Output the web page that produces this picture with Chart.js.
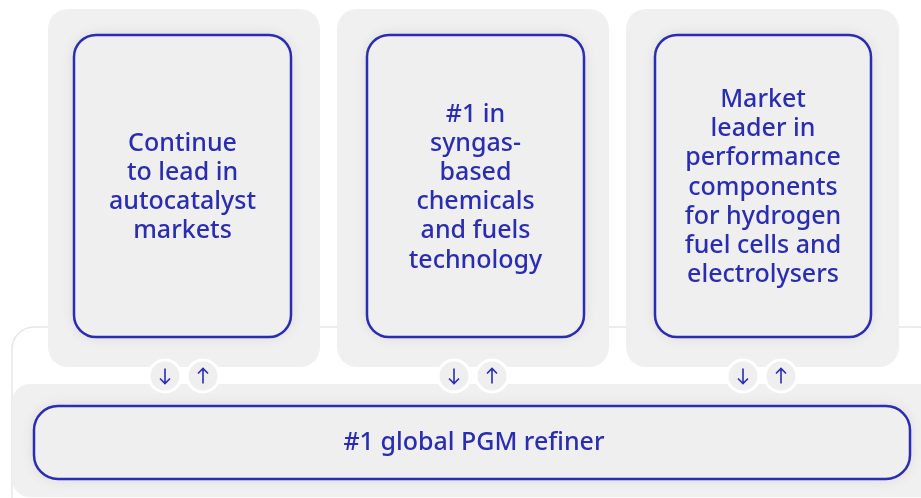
<!DOCTYPE html>
<html>
<head>
<meta charset="utf-8">
<script src="https://cdn.jsdelivr.net/npm/chart.js@4"></script>
<style>
  html, body { margin: 0; padding: 0; background: #ffffff; }
  canvas { display: block; }
</style>
</head>
<body>
<canvas id="jm-chart" width="921" height="498"></canvas>
<script>
( function () {
	'use strict';

	// ── Content ──────────────────────────────────────────────────────────
	var cardLines = [
		[ 'Continue', 'to lead in', 'autocatalyst', 'markets' ],
		[ '#1 in', 'syngas-', 'based', 'chemicals', 'and fuels', 'technology' ],
		[ 'Market', 'leader in', 'performance', 'components', 'for hydrogen', 'fuel cells and', 'electrolysers' ]
	];
	var baseLabel  = '#1 global PGM refiner';
	var flowArrows = [ 'down', 'up' ];

	// ── Layout (in scale units, 1 unit = 1 px) ───────────────────────────
	var cardX      = [ [ 48, 320 ], [ 337, 609 ], [ 626, 899 ] ];
	var innerX     = [ [ 74, 291 ], [ 367, 584 ], [ 655, 871 ] ];
	var cardTop    = 9;
	var cardBottom = 367;
	var innerTop   = 35;
	var innerBot   = 337;
	var arrowX     = [ [ 165, 203 ], [ 454, 492 ], [ 743, 781 ] ];
	var arrowY     = 376;

	var BLUE = '#2a2db0';
	var GREY = '#f0f0f0';
	var FONT = '500 25px "Noto Sans", "Open Sans", sans-serif';
	var LINE = 29.2;

	function rr( ctx, x, y, w, h, r ) {
		ctx.beginPath();
		ctx.moveTo( x + r, y );
		ctx.lineTo( x + w - r, y );
		ctx.arcTo( x + w, y, x + w, y + r, r );
		ctx.lineTo( x + w, y + h - r );
		ctx.arcTo( x + w, y + h, x + w - r, y + h, r );
		ctx.lineTo( x + r, y + h );
		ctx.arcTo( x, y + h, x, y + h - r, r );
		ctx.lineTo( x, y + r );
		ctx.arcTo( x, y, x + r, y, r );
		ctx.closePath();
	}

	var diagram = {
		id : 'diagram',
		beforeDatasetsDraw : function ( chart ) {
			var ctx = chart.ctx;
			var sx  = chart.scales.x;
			var sy  = chart.scales.y;
			function X( v ) { return sx.getPixelForValue( v ); }
			function Y( v ) { return sy.getPixelForValue( v ); }
			function box( x0, y0, x1, y1, r ) {
				rr( ctx, X( x0 ), Y( y0 ), X( x1 ) - X( x0 ), Y( y1 ) - Y( y0 ), r );
			}

			ctx.save();

			// outer container with faint border
			box( 12, 327, 940, 520, 22 );
			ctx.fillStyle = '#ffffff';
			ctx.fill();
			ctx.strokeStyle = '#e6e6e6';
			ctx.lineWidth = 1.5;
			ctx.stroke();

			// base panel
			box( 12, 384, 940, 497, 18 );
			ctx.fillStyle = GREY;
			ctx.fill();

			// top cards
			cardX.forEach( function ( c ) {
				box( c[ 0 ], cardTop, c[ 1 ], cardBottom, 20 );
				ctx.fillStyle = GREY;
				ctx.fill();
			} );

			// inner blue boxes
			function inner( x0, y0, x1, y1, r ) {
				ctx.save();
				box( x0, y0, x1, y1, r );
				ctx.shadowColor = 'rgba(0,0,0,0.10)';
				ctx.shadowBlur = 14;
				ctx.fillStyle = '#efefef';
				ctx.fill();
				ctx.restore();
				box( x0, y0, x1, y1, r );
				ctx.strokeStyle = BLUE;
				ctx.lineWidth = 2.5;
				ctx.stroke();
			}
			innerX.forEach( function ( b ) {
				inner( b[ 0 ], innerTop, b[ 1 ], innerBot, 22 );
			} );
			inner( 34, 406, 910, 479, 24 );

			// text
			ctx.fillStyle = BLUE;
			ctx.font = FONT;
			ctx.textAlign = 'center';
			ctx.textBaseline = 'middle';
			cardLines.forEach( function ( lines, i ) {
				var cx = X( ( innerX[ i ][ 0 ] + innerX[ i ][ 1 ] ) / 2 );
				var cy = Y( ( innerTop + innerBot ) / 2 + 1.5 );
				var y0 = cy - ( lines.length - 1 ) * LINE / 2;
				lines.forEach( function ( t, j ) {
					ctx.fillText( t, cx, y0 + j * LINE );
				} );
			} );
			ctx.fillText( baseLabel, X( 474 ), Y( 443 ) );

			// flow arrows
			arrowX.forEach( function ( pair ) {
				pair.forEach( function ( ax, k ) {
					var px = X( ax ), py = Y( arrowY );
					ctx.beginPath();
					ctx.arc( px, py, 16, 0, Math.PI * 2 );
					ctx.fillStyle = '#efefef';
					ctx.fill();
					ctx.strokeStyle = '#ffffff';
					ctx.lineWidth = 3;
					ctx.stroke();

					var dir = flowArrows[ k ] === 'down' ? 1 : -1;
					ctx.strokeStyle = BLUE;
					ctx.lineWidth = 1.6;
					ctx.beginPath();
					ctx.moveTo( px, py - 7.5 * dir );
					ctx.lineTo( px, py + 7.5 * dir );
					ctx.moveTo( px - 5, py + 2.5 * dir );
					ctx.lineTo( px, py + 7.5 * dir );
					ctx.lineTo( px + 5, py + 2.5 * dir );
					ctx.stroke();
				} );
			} );

			ctx.restore();
		}
	};

	new Chart( document.getElementById( 'jm-chart' ), {
		type : 'scatter',
		data : {
			datasets : [ { label : 'diagram', data : [] } ]
		},
		options : {
			responsive : false,
			animation  : false,
			events     : [],
			layout     : { padding : 0 },
			plugins    : { legend : { display : false }, tooltip : { enabled : false } },
			scales     : {
				x : { type : 'linear', min : 0, max : 921, display : false },
				y : { type : 'linear', min : 0, max : 498, reverse : true, display : false }
			}
		},
		plugins : [ diagram ]
	} );
} )();
</script>
</body>
</html>
